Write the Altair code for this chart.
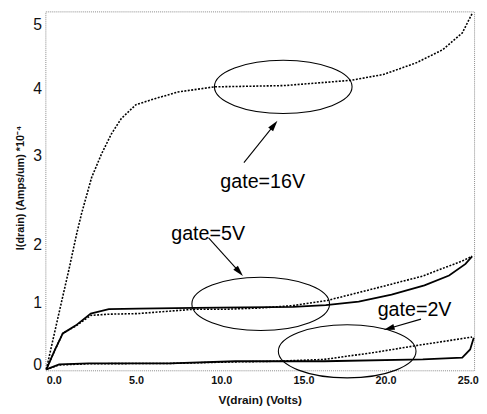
import altair as alt
import pandas as pd

# ---- data (V in volts, I in 1e-4 A/um) ----
V_16 = [0, 0.48, 0.96, 1.38, 1.85, 2.15, 2.75, 3.35, 3.95, 4.55, 5.45, 6.6, 8.0, 10.2, 12.5, 14.5, 16.5, 18.5, 20.5, 22.5, 24.1, 25.3, 25.9]
I_16 = [0, 0.57, 1.14, 1.66, 2.18, 2.41, 2.81, 3.10, 3.40, 3.63, 3.84, 3.93, 4.03, 4.11, 4.12, 4.13, 4.17, 4.21, 4.30, 4.48, 4.68, 4.94, 5.24]

V_5_solid = [0, 0.5, 1.0, 1.8, 2.7, 3.8, 5.6, 9.0, 12.0, 15.0, 17.0, 19.0, 21.0, 23.0, 24.5, 25.5, 25.9]
I_5_solid = [0, 0.30, 0.58, 0.71, 0.90, 0.97, 0.98, 0.99, 1.00, 1.01, 1.04, 1.10, 1.22, 1.38, 1.55, 1.75, 1.88]

V_5_dot = [0, 0.5, 1.0, 1.8, 2.7, 3.8, 5.6, 9.0, 11.0, 13.0, 15.0, 17.1, 19.9, 22.9, 25.3, 25.9]
I_5_dot = [0, 0.30, 0.58, 0.70, 0.87, 0.89, 0.90, 0.97, 0.97, 0.99, 1.03, 1.12, 1.32, 1.54, 1.80, 1.88]

V_2_solid = [0, 0.78, 2.57, 7.5, 11.5, 16.9, 22.9, 25.3, 25.78, 26.0]
I_2_solid = [0, 0.08, 0.095, 0.095, 0.13, 0.13, 0.16, 0.19, 0.32, 0.51]

V_2_dot = [0, 0.78, 2.57, 7.5, 11.5, 14.0, 16.9, 19.9, 22.9, 25.9]
I_2_dot = [0, 0.07, 0.09, 0.095, 0.12, 0.13, 0.16, 0.27, 0.40, 0.52]

X_TICKS = [0, 5, 10, 15, 20, 25]
Y_TICKS = [0, 1, 2, 3, 4, 5]

LABELS = ["gate=16V", "gate=5V", "gate=2V"]
LABEL_V = [13.16, 9.84, 22.40]
LABEL_I = [2.69, 2.11, 0.857]

ELL_V = [14.41, 13.04, 18.30]
ELL_I = [4.11, 1.06, 0.29]

ARR_V0 = [12.02, 9.87, 22.79]
ARR_I0 = [2.98, 2.13, 0.81]
ARR_V1 = [13.80, 11.68, 20.92]
ARR_I1 = [3.52, 1.63, 0.667]
ARR_ANG = [38, 138, 254]

# ---- tables ----
rows = []
for name, style, vs, ys in [
    ("g16", "dotted", V_16, I_16),
    ("g5s", "solid", V_5_solid, I_5_solid),
    ("g5d", "dotted", V_5_dot, I_5_dot),
    ("g2s", "solid", V_2_solid, I_2_solid),
    ("g2d", "dotted", V_2_dot, I_2_dot),
]:
    for k, (v, i) in enumerate(zip(vs, ys)):
        rows.append({"series": name, "style": style, "V": v, "I": i, "k": k})
curves = pd.DataFrame(rows)

labels = pd.DataFrame({"label": LABELS, "V": LABEL_V, "I": LABEL_I})
ellipses = pd.DataFrame({"V": ELL_V, "I": ELL_I})
arrows = pd.DataFrame({"V": ARR_V0, "I": ARR_I0, "V2": ARR_V1, "I2": ARR_I1, "ang": ARR_ANG})

FONT = "Liberation Sans"

xscale = alt.Scale(domain=[-0.06, 26.02], nice=False, zero=False)
yscale = alt.Scale(domain=Y_TICKS, range=[364, 301, 242, 152, 84, 18], nice=False, zero=False)

xaxis = alt.Axis(values=X_TICKS, format=".1f", grid=False, domain=False, ticks=False, tickSize=0,
                 labelAlign="left", labelBaseline="middle", labelPadding=10, labelFlush=False,
                 labelOverlap=False, labelFont=FONT, labelFontSize=11, labelFontWeight="bold",
                 labelColor="#111", title="V(drain) (Volts)", titleFont=FONT, titleFontSize=12,
                 titleFontWeight="bold", titleColor="#111", titleBaseline="middle", titleY=30)
yaxis = alt.Axis(values=Y_TICKS, format="d", grid=False, domain=False, ticks=False, tickSize=0,
                 labelAlign="right", labelBaseline="alphabetic", labelPadding=4, labelFlush=False,
                 labelOverlap=False, labelFont=FONT, labelFontSize=16, labelColor="#111",
                 title="I(drain) (Amps/um) *10⁻⁴", titleFont=FONT, titleFontSize=11,
                 titleFontWeight="bold", titleColor="#111", titleAngle=270, titleAlign="center",
                 titleBaseline="middle", titleX=-25, titleY=179)


def X(f):
    return alt.X(f, type="quantitative", scale=xscale, axis=xaxis)


def Y(f):
    return alt.Y(f, type="quantitative", scale=yscale, axis=yaxis)


dotted = alt.Chart(curves).transform_filter("datum.style == 'dotted'").mark_line(
    color="black", strokeWidth=1.6, strokeDash=[2, 1.5]
).encode(x=X("V"), y=Y("I"), detail="series:N", order="k:Q")

solid = alt.Chart(curves).transform_filter("datum.style == 'solid'").mark_line(
    color="black", strokeWidth=1.8
).encode(x=X("V"), y=Y("I"), detail="series:N", order="k:Q")

ELLIPSE = ("M -1 0 C -1 -0.213 -0.552 -0.386 0 -0.386 C 0.552 -0.386 1 -0.213 1 0 "
           "C 1 0.213 0.552 0.386 0 0.386 C -0.552 0.386 -1 0.213 -1 0 Z")
ell = alt.Chart(ellipses).mark_point(shape=ELLIPSE, size=19600, filled=False, color="black",
                                     strokeWidth=1.1, opacity=1).encode(x=X("V"), y=Y("I"))

arr_line = alt.Chart(arrows).mark_rule(color="black", strokeWidth=1.1).encode(
    x=X("V"), y=Y("I"), x2="V2", y2="I2")
HEAD = "M 0 -1 L 0.45 0.6 L -0.45 0.6 Z"
arr_head = alt.Chart(arrows).mark_point(shape=HEAD, filled=True, color="black", size=196,
                                        opacity=1, strokeWidth=0).encode(
    x=X("V2"), y=Y("I2"), angle=alt.Angle("ang:Q", scale=None))

text = alt.Chart(labels).mark_text(font=FONT, fontSize=20, align="center", baseline="alphabetic",
                                   color="black").encode(x=X("V"), y=Y("I"), text="label:N")

chart = alt.layer(dotted, solid, ell, arr_line, arr_head, text).properties(
    width=436, height=365,
    autosize=alt.AutoSizeParams(type="none"),
    padding={"left": 38, "top": 0, "right": 5, "bottom": 41},
    background="white",
).configure_view(stroke="#8a8a8a", strokeDash=[1, 1], strokeWidth=1)

chart.save("out.html", embed_options={"renderer": "svg", "actions": False})
